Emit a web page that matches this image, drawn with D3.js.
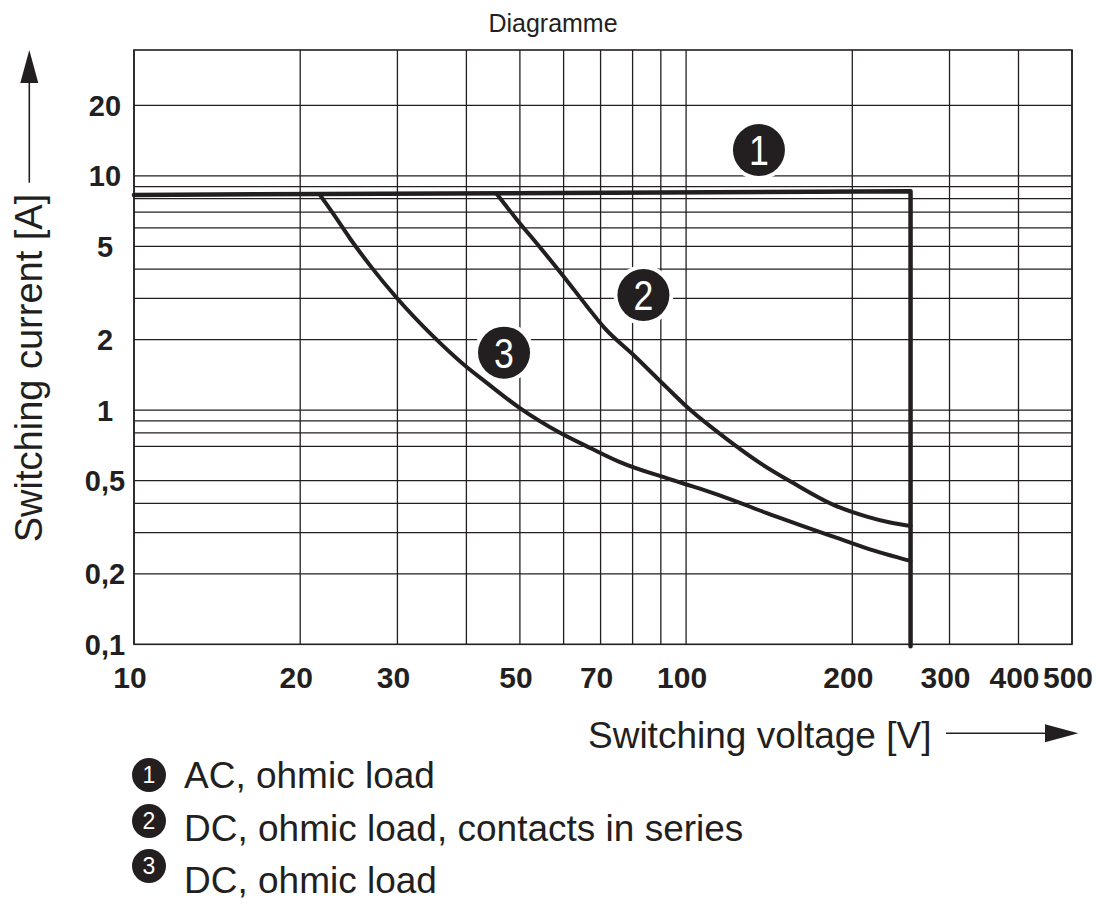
<!DOCTYPE html>
<html><head><meta charset="utf-8">
<script src="https://cdn.jsdelivr.net/npm/d3@7"></script>
<style>body{margin:0;background:#fff}svg{display:block}</style>
</head><body>
<svg id="c" width="1101" height="904"></svg>
<script>
// ---- data ----
const xGrid = [10,20,30,40,50,60,70,80,90,100,200,300,400,500];
const yGrid = [0.2,0.3,0.4,0.5,0.7,0.8,0.9,1,2,3,4,5,6,7,8,9,10,20];
const xTicks = [10,20,30,50,70,100,200,300,400,500];
const xTickLabels = ["10","20","30","50","70","100","200","300","400","500"];
const yTicks = [0.1,0.2,0.5,1,2,5,10,20];
const yTickLabels = ["0,1","0,2","0,5","1","2","5","10","20"];

const curve1V = [10, 255, 255];
const curve1I = [8.3, 8.6, 0.098];
const curve2V = [45.4, 49.3, 54.4, 59.9, 66.1, 71.2, 80.3, 92.2, 101.6, 118.5, 136.2, 156.4, 184.9, 212.5, 234.2, 255];
const curve2I = [8.38, 6.54, 4.95, 3.74, 2.78, 2.24, 1.72, 1.25, 1.005, 0.752, 0.594, 0.488, 0.394, 0.351, 0.331, 0.320];
const curve3V = [21.7, 23.0, 24.6, 26.8, 29.9, 34.8, 39.5, 43.5, 50.0, 59.1, 67.0, 75.9, 92.2, 105.9, 121.8, 140.0, 160.9, 184.9, 212.5, 255];
const curve3I = [8.32, 6.85, 5.42, 4.13, 3.02, 2.07, 1.57, 1.31, 1.02, 0.80, 0.69, 0.60, 0.512, 0.462, 0.412, 0.363, 0.323, 0.288, 0.257, 0.227];

const badgeIds = ["1","2","3"];
const badgeV = [135.5, 83.7, 46.8];
const badgeI = [12.9, 3.10, 1.76];
const legendLabels = ["AC, ohmic load", "DC, ohmic load, contacts in series", "DC, ohmic load"];

const titleText = "Diagramme";
const xTitle = "Switching voltage [V]";
const yTitle = "Switching current [A]";

// ---- drawing ----
const ink = "#231f20";
const font = "'Liberation Sans', Arial, Helvetica, sans-serif";
const svg = d3.select("#c");
const x = d3.scaleLog().domain([10, 500]).range([134, 1072]);
const y = d3.scaleLog().domain([0.1, 34.5]).range([644.3, 50]);

// title
svg.append("text").attr("x", 553).attr("y", 32).attr("text-anchor", "middle")
  .attr("font-family", font).attr("font-size", 25).attr("fill", ink).text(titleText);

// grid
const g = svg.append("g");
g.selectAll("line.v").data(xGrid).join("line").attr("class","v")
  .attr("x1", d => x(d)).attr("x2", d => x(d))
  .attr("y1", y.range()[0]).attr("y2", y.range()[1])
  .attr("stroke", ink).attr("stroke-width", 1.3);
g.selectAll("line.h").data(yGrid).join("line").attr("class","h")
  .attr("x1", x.range()[0]).attr("x2", x.range()[1])
  .attr("y1", d => y(d)).attr("y2", d => y(d))
  .attr("stroke", ink).attr("stroke-width", 1.3);
g.append("rect").attr("x", x.range()[0]).attr("y", y.range()[1])
  .attr("width", x.range()[1]-x.range()[0]).attr("height", y.range()[0]-y.range()[1])
  .attr("fill", "none").attr("stroke", ink).attr("stroke-width", 1.6);

// tick labels
svg.append("g").selectAll("text").data(xTicks).join("text")
  .attr("x", d => x(d) - 4).attr("y", 688)
  .attr("text-anchor", "middle").attr("font-family", font).attr("font-weight", "bold")
  .attr("font-size", 30).attr("fill", ink).text((d,i) => xTickLabels[i]);
svg.append("g").selectAll("text").data(yTicks).join("text")
  .attr("x", 105).attr("y", d => y(d)).attr("dy", "0.36em")
  .attr("text-anchor", "middle").attr("font-family", font).attr("font-weight", "bold")
  .attr("font-size", 29).attr("fill", ink).text((d,i) => yTickLabels[i]);

// badges halo (cuts grid)
svg.append("g").selectAll("circle").data(badgeIds).join("circle")
  .attr("cx", (d,i) => x(badgeV[i])).attr("cy", (d,i) => y(badgeI[i]))
  .attr("r", 30).attr("fill", "#fff");

// curves
const line = d3.line().x(d => x(d[0])).y(d => y(d[1])).curve(d3.curveMonotoneX);
const lin = d3.line().x(d => x(d[0])).y(d => y(d[1]));
svg.append("path").attr("d", lin(d3.zip(curve1V, curve1I)))
  .attr("fill","none").attr("stroke", ink).attr("stroke-width", 4.5)
  .attr("stroke-linejoin","round").attr("stroke-linecap","round");
svg.append("path").attr("d", line(d3.zip(curve2V, curve2I)))
  .attr("fill","none").attr("stroke", ink).attr("stroke-width", 4).attr("stroke-linecap","round");
svg.append("path").attr("d", line(d3.zip(curve3V, curve3I)))
  .attr("fill","none").attr("stroke", ink).attr("stroke-width", 4).attr("stroke-linecap","round");

// badges
const bg = svg.append("g").selectAll("g").data(badgeIds).join("g")
  .attr("transform", (d,i) => `translate(${x(badgeV[i])},${y(badgeI[i])})`);
bg.append("circle").attr("r", 26).attr("fill", ink);
bg.append("text").attr("transform","scale(0.85,1)").attr("text-anchor","middle").attr("dy","0.36em")
  .attr("font-family", font).attr("font-size", 42).attr("fill", "#fff").text(d => d);

// axis titles + arrows
svg.append("text").attr("x", 588).attr("y", 747.5)
  .attr("font-family", font).attr("font-size", 37).attr("fill", ink).text(xTitle);
svg.append("line").attr("x1", 946).attr("x2", 1047).attr("y1", 733.3).attr("y2", 733.3)
  .attr("stroke", ink).attr("stroke-width", 1.6);
svg.append("path").attr("d", "M1045,724.3L1078.3,733.3L1045,742.3Z").attr("fill", ink);

svg.append("text").attr("transform", "translate(42,368) rotate(-90)").attr("text-anchor","middle")
  .attr("font-family", font).attr("font-size", 38).attr("fill", ink).text(yTitle);
svg.append("line").attr("x1", 29.3).attr("x2", 29.3).attr("y1", 80).attr("y2", 182.7)
  .attr("stroke", ink).attr("stroke-width", 1.6);
svg.append("path").attr("d", "M20.3,83L29.3,50L38.3,83Z").attr("fill", ink);

// legend
const lg = svg.append("g").selectAll("g").data(legendLabels).join("g");
const legBadgeY = [775, 821, 866];
const legTextY = [788, 841, 893];
lg.append("circle").attr("cx", 149).attr("cy", (d,i) => legBadgeY[i]).attr("r", 17).attr("fill", ink);
lg.append("text").attr("x", 149).attr("y", (d,i) => legBadgeY[i]).attr("dy","0.36em").attr("text-anchor","middle")
  .attr("font-family", font).attr("font-size", 23).attr("fill", "#fff").text((d,i) => badgeIds[i]);
lg.append("text").attr("x", 184).attr("y", (d,i) => legTextY[i])
  .attr("font-family", font).attr("font-size", 37).attr("fill", ink).text(d => d);
</script>
</body></html>
